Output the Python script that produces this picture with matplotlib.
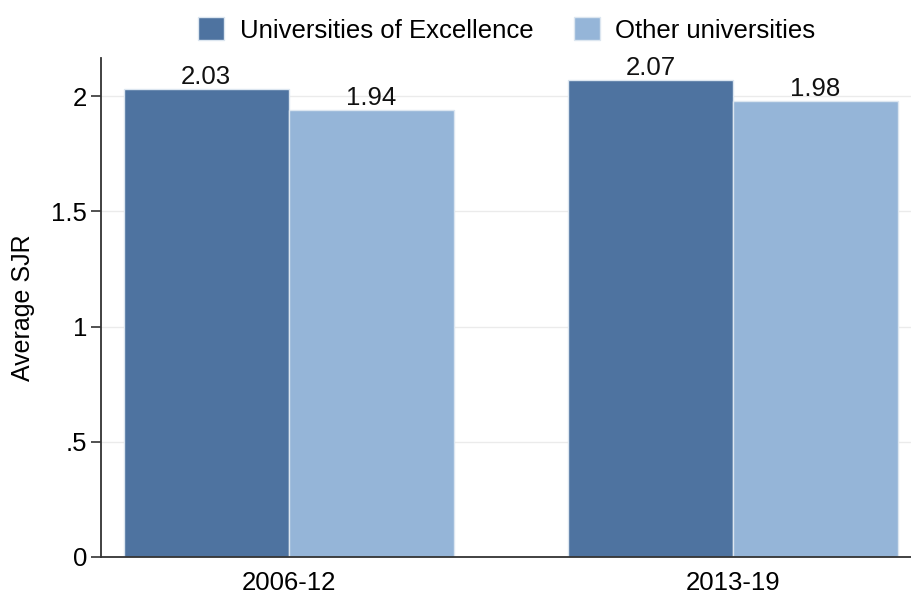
import matplotlib.pyplot as plt
import numpy as np
from matplotlib.patches import Patch

plt.rcParams['font.family'] = ['Liberation Sans', 'DejaVu Sans']

periods = ['2006-12', '2013-19']
series = ['Universities of Excellence', 'Other universities']
excellence = [2.03, 2.07]
other = [1.94, 1.98]
yticks = [0, 0.5, 1, 1.5, 2]
ytick_labels = ['0', '.5', '1', '1.5', '2']

dark = '#4e73a0'
light = '#95b5d8'
edge = '#dce6f0'

fig = plt.figure(figsize=(9.11, 5.95), dpi=100)
ax = fig.add_axes([101 / 911, 38 / 595, 810 / 911, 499 / 595])

x = np.arange(len(periods))
w = 0.372
b1 = ax.bar(x - w / 2, excellence, w, color=dark, edgecolor=edge, linewidth=1, zorder=3)
b2 = ax.bar(x + w / 2, other, w, color=light, edgecolor=edge, linewidth=1, zorder=3)

for bars in (b1, b2):
    for r in bars:
        ax.annotate(f'{r.get_height():.2f}', (r.get_x() + r.get_width() / 2, r.get_height()),
                    xytext=(0, 0), textcoords='offset points', ha='center', va='bottom',
                    fontsize=18.5, color='#111111')

ax.set_xlim(-0.423, 1.401)
ax.set_ylim(0, 2.165)
ax.set_xticks(x, periods, fontsize=18.5)
ax.tick_params(axis='x', length=0, pad=10)
ax.set_yticks(yticks, ytick_labels, fontsize=18.5)
ax.tick_params(axis='y', length=7, width=1.2, color='#333333', pad=3)
ax.yaxis.grid(True, color='#ebebeb', linewidth=1, zorder=0)
ax.set_ylabel('Average SJR', fontsize=18, labelpad=12)

for s in ('top', 'right'):
    ax.spines[s].set_visible(False)
for s in ('left', 'bottom'):
    ax.spines[s].set_color('#333333')
    ax.spines[s].set_linewidth(1.3)
    ax.spines[s].set_zorder(4)

handles = [Patch(facecolor=dark, edgecolor=edge), Patch(facecolor=light, edgecolor=edge)]
fig.legend(handles, series, loc='center', bbox_to_anchor=(507 / 911, 1 - 30 / 595),
           ncol=2, frameon=False, fontsize=18.5, handlelength=1.0, handleheight=1.0,
           handletextpad=0.6, columnspacing=1.6)

fig.savefig('out.png', dpi=100)
